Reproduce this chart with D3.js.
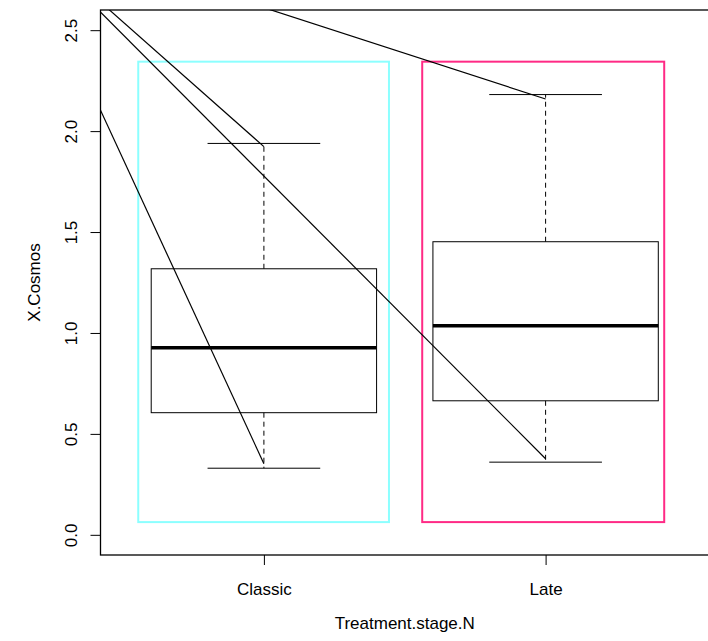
<!DOCTYPE html>
<html>
<head>
<meta charset="utf-8">
<script src="https://cdn.jsdelivr.net/npm/d3@7"></script>
<style>
  body { margin: 0; background: #fff; }
  text { font-family: "Liberation Sans", Arial, sans-serif; }
</style>
</head>
<body>
<script>
'use strict';

// box statistics per group
const categories = ["Classic", "Late"];
const whiskerLow = [0.33, 0.36];
const q1 = [0.605, 0.664];
const median = [0.927, 1.036];
const q3 = [1.318, 1.452];
const whiskerHigh = [1.939, 2.181];

// y axis ticks
const yTicks = [0.0, 0.5, 1.0, 1.5, 2.0, 2.5];

// lines drawn over the boxes: common start point, then end points (x as group position)
const lineStart = [0.12, 3.01];
const lineEnds = [[1, 0.352], [1, 1.923], [2, 0.377], [2, 2.159]];

// highlight rectangles [x0, y0, x1, y1] in data units
const rectCoords = [[0.554, 0.063, 1.444, 2.344], [1.562, 0.063, 2.421, 2.344]];
const rectColors = ["#8cffff", "#ff2a85"];

(function () {

  let svg = d3.select('body')
    .append('svg')
    .attr('width', 708)
    .attr('height', 641);

  // scales (R style: xlim 0.42..2.58, y plot region -0.1..2.6)
  let xScale = d3.scaleLinear()
    .domain([0.42, 2.58])
    .range([100.5, 709]);
  let yScale = d3.scaleLinear()
    .domain([-0.1, 2.6])
    .range([555, 10]);

  let x0 = xScale(0.42), x1 = xScale(2.58);
  let yTop = yScale(2.6), yBot = yScale(-0.1);

  // clip for everything inside the plot region
  svg.append('clipPath')
    .attr('id', 'plotClip')
    .append('rect')
    .attr('x', x0)
    .attr('y', yTop)
    .attr('width', x1 - x0)
    .attr('height', yBot - yTop);

  let plot = svg.append('g').attr('clip-path', 'url(#plotClip)');

  // boxes
  categories.forEach(function (c, i) {
    let pos = i + 1;
    let g = plot.append('g');

    // dashed whiskers
    g.append('line')
      .attr('x1', xScale(pos)).attr('x2', xScale(pos))
      .attr('y1', yScale(q3[i])).attr('y2', yScale(whiskerHigh[i]))
      .attr('stroke', '#000').attr('stroke-dasharray', '5,4');
    g.append('line')
      .attr('x1', xScale(pos)).attr('x2', xScale(pos))
      .attr('y1', yScale(q1[i])).attr('y2', yScale(whiskerLow[i]))
      .attr('stroke', '#000').attr('stroke-dasharray', '5,4');

    // staples
    [whiskerLow[i], whiskerHigh[i]].forEach(function (v) {
      g.append('line')
        .attr('x1', xScale(pos - 0.2)).attr('x2', xScale(pos + 0.2))
        .attr('y1', yScale(v)).attr('y2', yScale(v))
        .attr('stroke', '#000');
    });

    // box
    g.append('rect')
      .attr('x', xScale(pos - 0.4))
      .attr('y', yScale(q3[i]))
      .attr('width', xScale(pos + 0.4) - xScale(pos - 0.4))
      .attr('height', yScale(q1[i]) - yScale(q3[i]))
      .attr('fill', 'none')
      .attr('stroke', '#000');

    // median
    g.append('line')
      .attr('x1', xScale(pos - 0.4)).attr('x2', xScale(pos + 0.4))
      .attr('y1', yScale(median[i])).attr('y2', yScale(median[i]))
      .attr('stroke', '#000').attr('stroke-width', 3.5);
  });

  // coloured rectangles
  plot.selectAll('.hl')
    .data(rectCoords)
    .enter()
    .append('rect')
    .attr('x', d => xScale(d[0]))
    .attr('y', d => yScale(d[3]))
    .attr('width', d => xScale(d[2]) - xScale(d[0]))
    .attr('height', d => yScale(d[1]) - yScale(d[3]))
    .attr('fill', 'none')
    .attr('stroke', (d, i) => rectColors[i])
    .attr('stroke-width', 2);

  // lines from the common start point
  plot.selectAll('.seg')
    .data(lineEnds)
    .enter()
    .append('line')
    .attr('x1', xScale(lineStart[0]))
    .attr('y1', yScale(lineStart[1]))
    .attr('x2', d => xScale(d[0]))
    .attr('y2', d => yScale(d[1]))
    .attr('stroke', '#000')
    .attr('stroke-width', 1.2);

  // plot box
  svg.append('rect')
    .attr('x', x0)
    .attr('y', yTop)
    .attr('width', x1 - x0)
    .attr('height', yBot - yTop)
    .attr('fill', 'none')
    .attr('stroke', '#000')
    .attr('stroke-width', 1.3);

  // y axis
  let yAxis = d3.axisLeft(yScale)
    .tickValues(yTicks)
    .tickFormat(d3.format('.1f'))
    .tickSize(10)
    .tickPadding(0);
  let yg = svg.append('g')
    .attr('transform', 'translate(' + x0 + ',0)')
    .call(yAxis);
  yg.select('.domain').remove();
  yg.selectAll('.tick line').attr('stroke', '#000');
  yg.selectAll('.tick text')
    .attr('x', 0).attr('dy', 0)
    .attr('transform', 'translate(-24,0) rotate(-90)')
    .style('text-anchor', 'middle')
    .style('font-size', '17px')
    .attr('fill', '#000');

  // x axis
  let xAxis = d3.axisBottom(xScale)
    .tickValues([1, 2])
    .tickFormat((d, i) => categories[i])
    .tickSize(10)
    .tickPadding(0);
  let xg = svg.append('g')
    .attr('transform', 'translate(0,' + yBot + ')')
    .call(xAxis);
  xg.select('.domain').remove();
  xg.selectAll('.tick line').attr('stroke', '#000');
  xg.selectAll('.tick text')
    .attr('y', 40).attr('dy', 0)
    .style('font-size', '17px')
    .attr('fill', '#000');

  // axis titles
  svg.append('text')
    .attr('x', (x0 + x1) / 2)
    .attr('y', 629)
    .style('text-anchor', 'middle')
    .style('font-size', '17px')
    .text('Treatment.stage.N');

  svg.append('text')
    .attr('transform', 'translate(40,' + ((yTop + yBot) / 2) + ') rotate(-90)')
    .style('text-anchor', 'middle')
    .style('font-size', '17px')
    .text('X.Cosmos');

})();
</script>
</body>
</html>
